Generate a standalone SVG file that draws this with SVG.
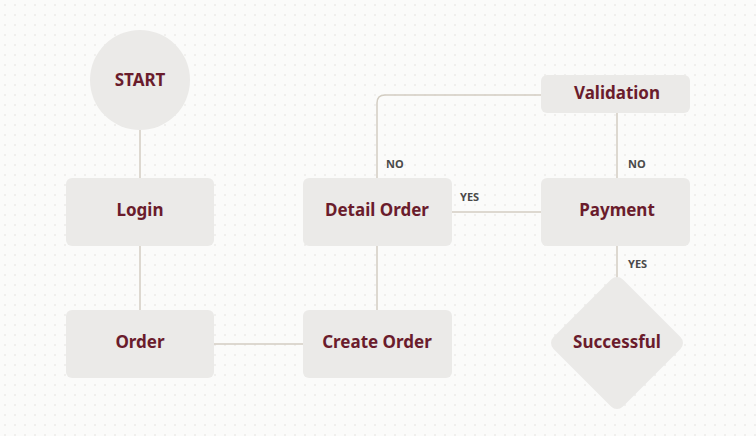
<svg xmlns="http://www.w3.org/2000/svg" width="756" height="436" viewBox="0 0 756 436">
<defs>
<pattern id="dots" width="10" height="10" patternUnits="userSpaceOnUse"><circle cx="5" cy="5" r="0.8" fill="#e2dfdc"/></pattern>
<style>
.n{fill:#ebeae8}
.t{font-family:"Noto Sans",sans-serif;font-weight:700;font-size:17px;fill:#6a1c2c;text-anchor:middle;dominant-baseline:central}
.c{fill:none;stroke:#d3cdc2;stroke-width:1.5}
.l{font-family:"Noto Sans",sans-serif;font-weight:700;font-size:11px;fill:#4a4a4a}
</style>
</defs>
<rect width="756" height="436" fill="#fbfbfa"/>
<rect width="756" height="436" fill="url(#dots)"/>
<g id="connectors">
<path class="c" d="M140 130V178M140 246V310M214 344H303M377 246V310M452 212H541M617 113V178M617 246V280"/>
<path class="c" d="M377 178V103Q377 95 385 95H541"/>
<text class="l" x="386" y="168">NO</text>
<text class="l" x="460" y="201">YES</text>
<text class="l" x="628" y="168">NO</text>
<text class="l" x="628" y="268">YES</text>
</g>
<g id="start"><circle class="n" cx="140" cy="80" r="50"/><text class="t" x="140" y="79">START</text></g>
<g id="login"><rect class="n" x="66" y="178" width="148" height="68" rx="6"/><text class="t" x="140" y="209">Login</text></g>
<g id="order"><rect class="n" x="66" y="310" width="148" height="68" rx="6"/><text class="t" x="140" y="341">Order</text></g>
<g id="create"><rect class="n" x="303" y="310" width="149" height="68" rx="6"/><text class="t" x="377" y="341">Create Order</text></g>
<g id="detail"><rect class="n" x="303" y="178" width="149" height="68" rx="6"/><text class="t" x="377" y="209">Detail Order</text></g>
<g id="payment"><rect class="n" x="541" y="178" width="149" height="68" rx="6"/><text class="t" x="617" y="209">Payment</text></g>
<g id="validation"><rect class="n" x="541" y="75" width="149" height="38" rx="6"/><text class="t" x="617" y="92">Validation</text></g>
<g id="successful"><rect class="n" x="568" y="294" width="98" height="98" rx="8" transform="rotate(45 617 343)"/><text class="t" x="617" y="341">Successful</text></g>
</svg>
